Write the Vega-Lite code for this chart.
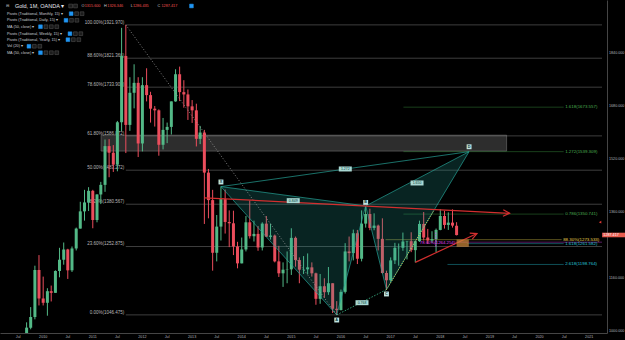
{
  "$schema": "https://vega.github.io/schema/vega-lite/v6.json",
  "width": 607,
  "height": 333,
  "autosize": "none",
  "padding": {"left": 0, "top": 0, "right": 18, "bottom": 7},
  "background": "#000000",
  "config": {
    "view": {"stroke": null},
    "font": "Liberation Sans",
    "axis": {"grid": false, "ticks": false, "domainColor": "#454545", "labelColor": "#b2b5be", "labelFont": "Liberation Sans", "labelFontSize": 3.7}
  },
  "datasets": {
    "xlabels": [
      {"d": "2009-07-01", "lab": "Jul"}, {"d": "2010-01-01", "lab": "2010"},
      {"d": "2010-07-01", "lab": "Jul"}, {"d": "2011-01-01", "lab": "2011"},
      {"d": "2011-07-01", "lab": "Jul"}, {"d": "2012-01-01", "lab": "2012"},
      {"d": "2012-07-01", "lab": "Jul"}, {"d": "2013-01-01", "lab": "2013"},
      {"d": "2013-07-01", "lab": "Jul"}, {"d": "2014-01-01", "lab": "2014"},
      {"d": "2014-07-01", "lab": "Jul"}, {"d": "2015-01-01", "lab": "2015"},
      {"d": "2015-07-01", "lab": "Jul"}, {"d": "2016-01-01", "lab": "2016"},
      {"d": "2016-07-01", "lab": "Jul"}, {"d": "2017-01-01", "lab": "2017"},
      {"d": "2017-07-01", "lab": "Jul"}, {"d": "2018-01-01", "lab": "2018"},
      {"d": "2018-07-01", "lab": "Jul"}, {"d": "2019-01-01", "lab": "2019"},
      {"d": "2019-07-01", "lab": "Jul"}, {"d": "2020-01-01", "lab": "2020"},
      {"d": "2020-07-01", "lab": "Jul"}, {"d": "2021-01-01", "lab": "2021"}
    ],
    "zone": [{"t1": "2011-03-03", "t2": "2019-05-04", "p1": 1541, "p2": 1589}],
    "orange": [{"t1": "2018-05-01", "t2": "2018-07-30", "p1": 1252, "p2": 1274}],
    "levels": [
      {"g": "fib", "p": 1921.97, "t1": "2011-09-01", "t2": "2021-04-05", "lab": "100.00%(1921.970)"},
      {"g": "fib", "p": 1821.366, "t1": "2011-09-01", "t2": "2021-04-05", "lab": "88.60%(1821.366)"},
      {"g": "fib", "p": 1733.908, "t1": "2011-09-01", "t2": "2021-04-05", "lab": "78.60%(1733.908)"},
      {"g": "fib", "p": 1586.872, "t1": "2011-09-01", "t2": "2021-04-05", "lab": "61.80%(1586.872)"},
      {"g": "fib", "p": 1483.272, "t1": "2011-09-01", "t2": "2021-04-05", "lab": "50.00%(1483.272)"},
      {"g": "fib", "p": 1380.567, "t1": "2011-09-01", "t2": "2021-04-05", "lab": "38.20%(1380.567)"},
      {"g": "fib", "p": 1252.875, "t1": "2011-09-01", "t2": "2021-04-05", "lab": "23.60%(1252.875)"},
      {"g": "fib", "p": 1046.475, "t1": "2011-09-01", "t2": "2021-04-05", "lab": "0.00%(1046.475)"},
      {"g": "ext", "p": 1673.557, "t1": "2017-04-05", "t2": "2020-06-27", "lab": "1.618(1673.557)"},
      {"g": "ext", "p": 1539.309, "t1": "2017-04-05", "t2": "2020-06-27", "lab": "1.272(1539.309)"},
      {"g": "ext", "p": 1350.741, "t1": "2017-04-05", "t2": "2020-06-27", "lab": "0.786(1350.741)"},
      {"g": "yel", "p": 1273.533, "t1": "2016-11-24", "t2": "2020-06-12", "lab": "88.30%(1273.533)"},
      {"g": "cyan", "p": 1261.582, "t1": "2018-07-18", "t2": "2020-06-27", "lab": "1.618(1261.582)"},
      {"g": "cyan", "p": 1198.764, "t1": "2018-02-23", "t2": "2020-06-27", "lab": "2.618(1198.764)"},
      {"g": "mag", "p": 1266, "t1": "2018-04-22", "t2": "2021-04-05", "lab": ""}
    ],
    "candles": [
      {"d": "2009-09-01", "o": 955, "h": 1024, "l": 931, "c": 1008},
      {"d": "2009-10-01", "o": 1008, "h": 1070, "l": 1003, "c": 1040},
      {"d": "2009-11-01", "o": 1040, "h": 1195, "l": 1033, "c": 1182},
      {"d": "2009-12-01", "o": 1182, "h": 1227, "l": 1075, "c": 1096},
      {"d": "2010-01-01", "o": 1096, "h": 1162, "l": 1075, "c": 1083},
      {"d": "2010-02-01", "o": 1083, "h": 1127, "l": 1044, "c": 1118},
      {"d": "2010-03-01", "o": 1118, "h": 1135, "l": 1087, "c": 1113},
      {"d": "2010-04-01", "o": 1113, "h": 1181, "l": 1113, "c": 1179},
      {"d": "2010-05-01", "o": 1179, "h": 1249, "l": 1160, "c": 1213},
      {"d": "2010-06-01", "o": 1213, "h": 1265, "l": 1198, "c": 1244},
      {"d": "2010-07-01", "o": 1244, "h": 1246, "l": 1155, "c": 1181},
      {"d": "2010-08-01", "o": 1181, "h": 1253, "l": 1176, "c": 1247},
      {"d": "2010-09-01", "o": 1247, "h": 1310, "l": 1241, "c": 1307},
      {"d": "2010-10-01", "o": 1307, "h": 1388, "l": 1307, "c": 1359},
      {"d": "2010-11-01", "o": 1359, "h": 1424, "l": 1331, "c": 1386},
      {"d": "2010-12-01", "o": 1386, "h": 1432, "l": 1360, "c": 1421},
      {"d": "2011-01-01", "o": 1421, "h": 1424, "l": 1308, "c": 1333},
      {"d": "2011-02-01", "o": 1333, "h": 1411, "l": 1326, "c": 1410},
      {"d": "2011-03-01", "o": 1410, "h": 1448, "l": 1381, "c": 1439},
      {"d": "2011-04-01", "o": 1439, "h": 1576, "l": 1418, "c": 1556},
      {"d": "2011-05-01", "o": 1556, "h": 1577, "l": 1462, "c": 1536},
      {"d": "2011-06-01", "o": 1536, "h": 1559, "l": 1478, "c": 1500},
      {"d": "2011-07-01", "o": 1500, "h": 1632, "l": 1480, "c": 1628},
      {"d": "2011-08-01", "o": 1628, "h": 1913, "l": 1601, "c": 1828},
      {"d": "2011-09-01", "o": 1828, "h": 1921.97, "l": 1535, "c": 1620},
      {"d": "2011-10-01", "o": 1620, "h": 1764, "l": 1602, "c": 1717},
      {"d": "2011-11-01", "o": 1717, "h": 1803, "l": 1670, "c": 1747},
      {"d": "2011-12-01", "o": 1747, "h": 1764, "l": 1523, "c": 1564},
      {"d": "2012-01-01", "o": 1564, "h": 1764, "l": 1540, "c": 1740},
      {"d": "2012-02-01", "o": 1740, "h": 1791, "l": 1691, "c": 1710},
      {"d": "2012-03-01", "o": 1710, "h": 1720, "l": 1627, "c": 1669},
      {"d": "2012-04-01", "o": 1669, "h": 1677, "l": 1615, "c": 1664},
      {"d": "2012-05-01", "o": 1664, "h": 1667, "l": 1527, "c": 1560},
      {"d": "2012-06-01", "o": 1560, "h": 1641, "l": 1546, "c": 1605},
      {"d": "2012-07-01", "o": 1605, "h": 1627, "l": 1565, "c": 1614},
      {"d": "2012-08-01", "o": 1614, "h": 1691, "l": 1591, "c": 1691},
      {"d": "2012-09-01", "o": 1691, "h": 1788, "l": 1690, "c": 1773},
      {"d": "2012-10-01", "o": 1773, "h": 1796, "l": 1692, "c": 1719},
      {"d": "2012-11-01", "o": 1719, "h": 1755, "l": 1672, "c": 1712},
      {"d": "2012-12-01", "o": 1712, "h": 1727, "l": 1635, "c": 1676},
      {"d": "2013-01-01", "o": 1676, "h": 1695, "l": 1626, "c": 1664},
      {"d": "2013-02-01", "o": 1664, "h": 1684, "l": 1555, "c": 1578},
      {"d": "2013-03-01", "o": 1578, "h": 1617, "l": 1562, "c": 1597},
      {"d": "2013-04-01", "o": 1597, "h": 1605, "l": 1321, "c": 1476},
      {"d": "2013-05-01", "o": 1476, "h": 1487, "l": 1338, "c": 1393},
      {"d": "2013-06-01", "o": 1393, "h": 1424, "l": 1180, "c": 1234},
      {"d": "2013-07-01", "o": 1234, "h": 1348, "l": 1208, "c": 1313},
      {"d": "2013-08-01", "o": 1313, "h": 1433.8, "l": 1271, "c": 1396},
      {"d": "2013-09-01", "o": 1396, "h": 1425, "l": 1292, "c": 1327},
      {"d": "2013-10-01", "o": 1327, "h": 1362, "l": 1251, "c": 1323},
      {"d": "2013-11-01", "o": 1323, "h": 1361, "l": 1227, "c": 1253},
      {"d": "2013-12-01", "o": 1253, "h": 1267, "l": 1187, "c": 1202},
      {"d": "2014-01-01", "o": 1202, "h": 1280, "l": 1202, "c": 1244},
      {"d": "2014-02-01", "o": 1244, "h": 1345, "l": 1238, "c": 1326},
      {"d": "2014-03-01", "o": 1326, "h": 1392, "l": 1277, "c": 1284},
      {"d": "2014-04-01", "o": 1284, "h": 1331, "l": 1268, "c": 1291},
      {"d": "2014-05-01", "o": 1291, "h": 1315, "l": 1240, "c": 1250},
      {"d": "2014-06-01", "o": 1250, "h": 1326, "l": 1241, "c": 1322},
      {"d": "2014-07-01", "o": 1322, "h": 1345, "l": 1282, "c": 1282.5},
      {"d": "2014-08-01", "o": 1282, "h": 1322, "l": 1274, "c": 1286},
      {"d": "2014-09-01", "o": 1286, "h": 1289, "l": 1205, "c": 1208},
      {"d": "2014-10-01", "o": 1208, "h": 1255, "l": 1161, "c": 1172},
      {"d": "2014-11-01", "o": 1172, "h": 1205, "l": 1131, "c": 1183},
      {"d": "2014-12-01", "o": 1183, "h": 1238, "l": 1142, "c": 1184},
      {"d": "2015-01-01", "o": 1184, "h": 1308, "l": 1167, "c": 1279},
      {"d": "2015-02-01", "o": 1279, "h": 1283, "l": 1192, "c": 1212},
      {"d": "2015-03-01", "o": 1212, "h": 1220, "l": 1142, "c": 1183},
      {"d": "2015-04-01", "o": 1183, "h": 1224, "l": 1170, "c": 1184},
      {"d": "2015-05-01", "o": 1184, "h": 1232, "l": 1169, "c": 1190},
      {"d": "2015-06-01", "o": 1190, "h": 1205, "l": 1162, "c": 1172},
      {"d": "2015-07-01", "o": 1172, "h": 1174, "l": 1077, "c": 1095},
      {"d": "2015-08-01", "o": 1095, "h": 1170, "l": 1080, "c": 1133},
      {"d": "2015-09-01", "o": 1133, "h": 1157, "l": 1098, "c": 1115},
      {"d": "2015-10-01", "o": 1115, "h": 1191, "l": 1107, "c": 1142},
      {"d": "2015-11-01", "o": 1142, "h": 1142, "l": 1052, "c": 1065},
      {"d": "2015-12-01", "o": 1065, "h": 1088, "l": 1046.4, "c": 1061},
      {"d": "2016-01-01", "o": 1061, "h": 1123, "l": 1060, "c": 1116},
      {"d": "2016-02-01", "o": 1116, "h": 1263, "l": 1111, "c": 1238},
      {"d": "2016-03-01", "o": 1238, "h": 1283, "l": 1208, "c": 1233},
      {"d": "2016-04-01", "o": 1233, "h": 1304, "l": 1211, "c": 1293},
      {"d": "2016-05-01", "o": 1293, "h": 1303, "l": 1200, "c": 1216},
      {"d": "2016-06-01", "o": 1216, "h": 1362, "l": 1208, "c": 1322},
      {"d": "2016-07-01", "o": 1322, "h": 1375.3, "l": 1310, "c": 1351},
      {"d": "2016-08-01", "o": 1351, "h": 1367, "l": 1302, "c": 1309},
      {"d": "2016-09-01", "o": 1309, "h": 1353, "l": 1302, "c": 1316},
      {"d": "2016-10-01", "o": 1316, "h": 1319, "l": 1241, "c": 1276},
      {"d": "2016-11-01", "o": 1276, "h": 1338, "l": 1171, "c": 1173},
      {"d": "2016-12-01", "o": 1173, "h": 1180, "l": 1122.8, "c": 1151},
      {"d": "2017-01-01", "o": 1151, "h": 1220, "l": 1146, "c": 1211},
      {"d": "2017-02-01", "o": 1211, "h": 1264, "l": 1200, "c": 1249},
      {"d": "2017-03-01", "o": 1248, "h": 1262, "l": 1195, "c": 1249},
      {"d": "2017-04-01", "o": 1249, "h": 1295, "l": 1240, "c": 1268},
      {"d": "2017-05-01", "o": 1268, "h": 1270, "l": 1214, "c": 1269},
      {"d": "2017-06-01", "o": 1269, "h": 1296, "l": 1236, "c": 1242},
      {"d": "2017-07-01", "o": 1242, "h": 1270, "l": 1204.9, "c": 1269},
      {"d": "2017-08-01", "o": 1269, "h": 1331, "l": 1267, "c": 1321},
      {"d": "2017-09-01", "o": 1321, "h": 1357, "l": 1271, "c": 1280},
      {"d": "2017-10-01", "o": 1280, "h": 1306, "l": 1261, "c": 1271},
      {"d": "2017-11-01", "o": 1271, "h": 1299, "l": 1264, "c": 1275},
      {"d": "2017-12-01", "o": 1275, "h": 1307, "l": 1236, "c": 1303},
      {"d": "2018-01-01", "o": 1303, "h": 1366, "l": 1302, "c": 1345},
      {"d": "2018-02-01", "o": 1345, "h": 1361, "l": 1307, "c": 1318},
      {"d": "2018-03-01", "o": 1318, "h": 1356, "l": 1303, "c": 1325},
      {"d": "2018-04-01", "o": 1325, "h": 1365, "l": 1310, "c": 1316},
      {"d": "2018-05-01", "o": 1315.6, "h": 1326.346, "l": 1286.435, "c": 1287.417}
    ],
    "poly": [
      {"poly": "XAB", "k": 0, "d": "2013-08-01", "p": 1433.8},
      {"poly": "XAB", "k": 1, "d": "2015-12-01", "p": 1046.4},
      {"poly": "XAB", "k": 2, "d": "2016-07-01", "p": 1375.3},
      {"poly": "BCD", "k": 0, "d": "2016-07-01", "p": 1375.3},
      {"poly": "BCD", "k": 1, "d": "2016-12-01", "p": 1122.8},
      {"poly": "BCD", "k": 2, "d": "2018-08-01", "p": 1539.3}
    ],
    "segs": [
      {"g": "fibdiag", "t1": "2011-09-01", "p1": 1921.97, "t2": "2015-12-01", "p2": 1046.475},
      {"g": "edge", "t1": "2013-08-01", "p1": 1433.8, "t2": "2015-12-01", "p2": 1046.4},
      {"g": "edge", "t1": "2015-12-01", "p1": 1046.4, "t2": "2016-07-01", "p2": 1375.3},
      {"g": "edge", "t1": "2013-08-01", "p1": 1433.8, "t2": "2016-07-01", "p2": 1375.3},
      {"g": "edge", "t1": "2016-07-01", "p1": 1375.3, "t2": "2016-12-01", "p2": 1122.8},
      {"g": "edge", "t1": "2016-12-01", "p1": 1122.8, "t2": "2018-08-01", "p2": 1539.3},
      {"g": "edge", "t1": "2016-07-01", "p1": 1375.3, "t2": "2018-08-01", "p2": 1539.3},
      {"g": "xd", "t1": "2013-08-01", "p1": 1433.8, "t2": "2018-08-01", "p2": 1539.3},
      {"g": "ac", "t1": "2015-12-01", "p1": 1046.4, "t2": "2016-12-01", "p2": 1122.8},
      {"g": "yeldot", "t1": "2016-12-01", "p1": 1122.8, "t2": "2017-11-12", "p2": 1360},
      {"g": "magv", "t1": "2017-11-29", "p1": 1295, "t2": "2017-11-29", "p2": 1250},
      {"g": "red", "t1": "2013-04-03", "p1": 1399.8, "t2": "2019-05-26", "p2": 1353.2},
      {"g": "red", "t1": "2017-07-01", "p1": 1204.9, "t2": "2018-09-28", "p2": 1292}
    ],
    "arrows": [
      {"a": "a1", "d": "2019-05-26", "p": 1353.2},
      {"a": "a2", "d": "2018-09-28", "p": 1292}
    ],
    "pts": [
      {"lab": "X", "d": "2013-08-01", "p": 1447.7},
      {"lab": "A", "d": "2015-12-01", "p": 1031},
      {"lab": "B", "d": "2016-07-01", "p": 1386},
      {"lab": "C", "d": "2016-12-01", "p": 1109.6},
      {"lab": "D", "d": "2018-08-01", "p": 1554}
    ],
    "ratios": [
      {"lab": "0.849", "d": "2015-01-15", "p": 1391.3},
      {"lab": "0.768", "d": "2016-06-04", "p": 1083.3},
      {"lab": "1.272", "d": "2016-02-02", "p": 1487},
      {"lab": "1.650", "d": "2017-07-14", "p": 1444.7}
    ],
    "magtext": [{"txt": "78.60%(1264.254)", "d": "2017-08-03", "p": 1265}],
    "pricebox": [{"t1": "2021-04-06", "t2": "2021-10-01", "p1": 1280.8, "p2": 1294.6}],
    "pricetext": [{"txt": "1287.417", "d": "2021-04-15", "p": 1287.6}],
    "marker": [{"d": "2021-03-22", "p": 1326.3}],
    "legend": [
      {"kind": "title", "d": "2009-06-07", "p": 1979, "txt": "Gold, 1M, OANDA ▾"},
      {"kind": "row", "d": "2009-04-05", "p": 1979, "txt": "⊟"},
      {"kind": "hdr", "d": "2010-10-10", "p": 1979, "txt": "O"},
      {"kind": "val", "d": "2010-11-02", "p": 1979, "txt": "1315.600"},
      {"kind": "hdr", "d": "2011-03-25", "p": 1979, "txt": "H"},
      {"kind": "val", "d": "2011-04-18", "p": 1979, "txt": "1326.346"},
      {"kind": "hdr", "d": "2011-10-07", "p": 1979, "txt": "L"},
      {"kind": "val", "d": "2011-10-23", "p": 1979, "txt": "1286.435"},
      {"kind": "hdr", "d": "2012-04-22", "p": 1979, "txt": "C"},
      {"kind": "val", "d": "2012-05-20", "p": 1979, "txt": "1287.417"},
      {"kind": "row", "d": "2009-04-09", "p": 1955.8, "txt": "Pivots (Traditional, Monthly, 15) ▾"},
      {"kind": "row", "d": "2009-04-09", "p": 1935.8, "txt": "Pivots (Traditional, Daily, 15) ▾"},
      {"kind": "row", "d": "2009-04-09", "p": 1916.5, "txt": "MA (50, close) ▾"},
      {"kind": "row", "d": "2009-04-09", "p": 1895.4, "txt": "Pivots (Traditional, Weekly, 15) ▾"},
      {"kind": "row", "d": "2009-04-09", "p": 1877.3, "txt": "Pivots (Traditional, Yearly, 15) ▾"},
      {"kind": "row", "d": "2009-04-09", "p": 1857.4, "txt": "Vol (20) ▾"},
      {"kind": "row", "d": "2009-04-09", "p": 1838.0, "txt": "MA (50, close) ▾"}
    ],
    "icons": [
      {"kind": "gray", "d": "2010-07-22", "p": 1979},
      {"kind": "gray", "d": "2010-08-27", "p": 1979},
      {"kind": "blue", "d": "2012-12-27", "p": 1979},
      {"kind": "blue", "d": "2010-07-26", "p": 1955.8},
      {"kind": "gray", "d": "2010-09-04", "p": 1955.8},
      {"kind": "gray", "d": "2010-10-14", "p": 1955.8},
      {"kind": "blue", "d": "2010-06-18", "p": 1935.8},
      {"kind": "gray", "d": "2010-07-28", "p": 1935.8},
      {"kind": "gray", "d": "2010-09-06", "p": 1935.8},
      {"kind": "blue", "d": "2009-12-12", "p": 1916.5},
      {"kind": "gray", "d": "2010-01-21", "p": 1916.5},
      {"kind": "gray", "d": "2010-03-02", "p": 1916.5},
      {"kind": "gray", "d": "2010-04-11", "p": 1916.5},
      {"kind": "blue", "d": "2010-07-17", "p": 1895.4},
      {"kind": "gray", "d": "2010-08-26", "p": 1895.4},
      {"kind": "gray", "d": "2010-10-05", "p": 1895.4},
      {"kind": "blue", "d": "2010-07-02", "p": 1877.3},
      {"kind": "gray", "d": "2010-08-11", "p": 1877.3},
      {"kind": "gray", "d": "2010-09-20", "p": 1877.3},
      {"kind": "blue", "d": "2009-09-18", "p": 1857.4},
      {"kind": "gray", "d": "2009-10-28", "p": 1857.4},
      {"kind": "gray", "d": "2009-12-07", "p": 1857.4},
      {"kind": "blue", "d": "2009-12-12", "p": 1838.0},
      {"kind": "gray", "d": "2010-01-21", "p": 1838.0},
      {"kind": "gray", "d": "2010-03-02", "p": 1838.0},
      {"kind": "gray", "d": "2010-04-11", "p": 1838.0}
    ]
  },
  "layer": [
    {
      "data": {"name": "zone"},
      "mark": {"type": "rect", "fill": "#5a5a5a", "fillOpacity": 0.5, "stroke": "#707070", "strokeWidth": 0.6, "clip": true},
      "encoding": {
        "x": {
          "field": "t1", "type": "temporal",
          "scale": {"domain": [{"year": 2009, "month": 3, "date": 26}, {"year": 2021, "month": 4, "date": 5}]},
          "axis": {"title": null, "orient": "bottom", "labels": false, "ticks": false, "domainColor": "#454545"}
        },
        "x2": {"field": "t2"},
        "y": {
          "field": "p1", "type": "quantitative",
          "scale": {"domain": [991.8, 1997.1], "zero": false, "nice": false},
          "axis": {
            "title": null, "orient": "right", "labelPadding": 1.5, "labelFontSize": 3.7, "labelOverlap": false, "labelFlush": false,
            "labelExpr": "format(datum.value, '.3f')",
            "values": [1000, 1040, 1080, 1120, 1160, 1200, 1240, 1320, 1360, 1400, 1440, 1480, 1520, 1560, 1600, 1640, 1680, 1720, 1760, 1800, 1840, 1880, 1920, 1960]
          }
        },
        "y2": {"field": "p2"}
      }
    },
    {
      "data": {"name": "xlabels"},
      "mark": {"type": "text", "align": "center", "baseline": "middle", "dy": 3.8, "fontSize": 3.7, "color": "#b2b5be", "clip": false},
      "encoding": {
        "x": {"field": "d", "type": "temporal"},
        "y": {"datum": 991.8, "type": "quantitative"},
        "text": {"field": "lab"}
      }
    },
    {
      "data": {"name": "levels"},
      "mark": {"type": "rule", "strokeWidth": 0.8, "opacity": 0.5, "clip": true},
      "encoding": {
        "x": {"field": "t1", "type": "temporal"},
        "x2": {"field": "t2"},
        "y": {"field": "p", "type": "quantitative"},
        "color": {
          "condition": [
            {"test": "datum.g == 'ext'", "value": "#3f9d44"},
            {"test": "datum.g == 'yel'", "value": "#e8d44d"},
            {"test": "datum.g == 'cyan'", "value": "#26c6da"},
            {"test": "datum.g == 'mag'", "value": "#e040fb"}
          ],
          "value": "#9a9a9a"
        }
      }
    },
    {
      "data": {"name": "levels"},
      "transform": [{"filter": "datum.g == 'fib'"}],
      "mark": {"type": "text", "align": "right", "baseline": "bottom", "dx": -1.5, "dy": -0.3, "fontSize": 4.5, "color": "#b8b8b8", "clip": true},
      "encoding": {
        "x": {"field": "t1", "type": "temporal"},
        "y": {"field": "p", "type": "quantitative"},
        "text": {"field": "lab"}
      }
    },
    {
      "data": {"name": "levels"},
      "transform": [{"filter": "datum.g == 'ext' || datum.g == 'yel' || datum.g == 'cyan'"}],
      "mark": {"type": "text", "align": "left", "baseline": "middle", "dx": 1.5, "fontSize": 4.4, "clip": true},
      "encoding": {
        "x": {"field": "t2", "type": "temporal"},
        "y": {"field": "p", "type": "quantitative"},
        "text": {"field": "lab"},
        "color": {
          "condition": [
            {"test": "datum.g == 'ext'", "value": "#4caf50"},
            {"test": "datum.g == 'yel'", "value": "#e8d44d"}
          ],
          "value": "#26c6da"
        }
      }
    },
    {
      "data": {"name": "candles"},
      "layer": [
        {
          "mark": {"type": "rule", "strokeWidth": 1, "clip": true},
          "encoding": {
            "x": {"field": "d", "type": "temporal"},
            "y": {"field": "l", "type": "quantitative"},
            "y2": {"field": "h"},
            "color": {"condition": {"test": "datum.c >= datum.o", "value": "#53b987"}, "value": "#eb4d5c"}
          }
        },
        {
          "mark": {"type": "bar", "size": 3, "clip": true},
          "encoding": {
            "x": {"field": "d", "type": "temporal"},
            "y": {"field": "o", "type": "quantitative"},
            "y2": {"field": "c"},
            "color": {"condition": {"test": "datum.c >= datum.o", "value": "#53b987"}, "value": "#eb4d5c"}
          }
        }
      ]
    },
    {
      "data": {"name": "poly"},
      "mark": {"type": "line", "interpolate": "linear-closed", "filled": true, "fill": "#26a69a", "fillOpacity": 0.22, "strokeWidth": 0, "clip": true},
      "encoding": {
        "x": {"field": "d", "type": "temporal"},
        "y": {"field": "p", "type": "quantitative"},
        "detail": {"field": "poly"},
        "order": {"field": "k"}
      }
    },
    {
      "data": {"name": "segs"},
      "layer": [
        {
          "transform": [{"filter": "datum.g == 'edge' || datum.g == 'xd'"}],
          "mark": {"type": "rule", "color": "#26a69a", "strokeWidth": 0.8, "opacity": 0.85, "clip": true},
          "encoding": {"x": {"field": "t1", "type": "temporal"}, "x2": {"field": "t2"}, "y": {"field": "p1", "type": "quantitative"}, "y2": {"field": "p2"}}
        },
        {
          "transform": [{"filter": "datum.g == 'ac'"}],
          "mark": {"type": "rule", "color": "#3fbf8f", "strokeWidth": 0.8, "strokeDash": [1.5, 1.5], "clip": true},
          "encoding": {"x": {"field": "t1", "type": "temporal"}, "x2": {"field": "t2"}, "y": {"field": "p1", "type": "quantitative"}, "y2": {"field": "p2"}}
        },
        {
          "transform": [{"filter": "datum.g == 'fibdiag'"}],
          "mark": {"type": "rule", "color": "#a0a0a0", "strokeWidth": 0.8, "strokeDash": [1, 2], "clip": true},
          "encoding": {"x": {"field": "t1", "type": "temporal"}, "x2": {"field": "t2"}, "y": {"field": "p1", "type": "quantitative"}, "y2": {"field": "p2"}}
        },
        {
          "transform": [{"filter": "datum.g == 'yeldot'"}],
          "mark": {"type": "rule", "color": "#e8d44d", "strokeWidth": 1, "strokeDash": [1, 1.5], "clip": true},
          "encoding": {"x": {"field": "t1", "type": "temporal"}, "x2": {"field": "t2"}, "y": {"field": "p1", "type": "quantitative"}, "y2": {"field": "p2"}}
        },
        {
          "transform": [{"filter": "datum.g == 'magv'"}],
          "mark": {"type": "rule", "color": "#e040fb", "strokeWidth": 0.8, "strokeDash": [1.5, 1], "clip": true},
          "encoding": {"x": {"field": "t1", "type": "temporal"}, "x2": {"field": "t2"}, "y": {"field": "p1", "type": "quantitative"}, "y2": {"field": "p2"}}
        },
        {
          "transform": [{"filter": "datum.g == 'red'"}],
          "mark": {"type": "rule", "color": "#d32f2f", "strokeWidth": 1.2, "clip": true},
          "encoding": {"x": {"field": "t1", "type": "temporal"}, "x2": {"field": "t2"}, "y": {"field": "p1", "type": "quantitative"}, "y2": {"field": "p2"}}
        }
      ]
    },
    {
      "data": {"name": "arrows"},
      "layer": [
        {
          "transform": [{"filter": "datum.a == 'a1'"}],
          "mark": {"type": "point", "shape": "M-2,-1L0,0L-2,1", "filled": false, "stroke": "#d32f2f", "strokeWidth": 1.2, "size": 42, "angle": 3, "opacity": 1, "clip": true},
          "encoding": {"x": {"field": "d", "type": "temporal"}, "y": {"field": "p", "type": "quantitative"}}
        },
        {
          "transform": [{"filter": "datum.a == 'a2'"}],
          "mark": {"type": "point", "shape": "M-2,-1L0,0L-2,1", "filled": false, "stroke": "#d32f2f", "strokeWidth": 1.2, "size": 42, "angle": 337, "opacity": 1, "clip": true},
          "encoding": {"x": {"field": "d", "type": "temporal"}, "y": {"field": "p", "type": "quantitative"}}
        }
      ]
    },
    {
      "data": {"name": "orange"},
      "mark": {"type": "rect", "fill": "#d08a3a", "fillOpacity": 0.7, "clip": true},
      "encoding": {"x": {"field": "t1", "type": "temporal"}, "x2": {"field": "t2"}, "y": {"field": "p1", "type": "quantitative"}, "y2": {"field": "p2"}}
    },
    {
      "data": {"name": "magtext"},
      "mark": {"type": "text", "align": "left", "baseline": "middle", "fontSize": 4.3, "color": "#e040fb", "clip": true},
      "encoding": {"x": {"field": "d", "type": "temporal"}, "y": {"field": "p", "type": "quantitative"}, "text": {"field": "txt"}}
    },
    {
      "data": {"name": "pts"},
      "layer": [
        {
          "mark": {"type": "point", "shape": "square", "filled": true, "size": 24, "color": "#bfe3df", "opacity": 1, "clip": true},
          "encoding": {"x": {"field": "d", "type": "temporal"}, "y": {"field": "p", "type": "quantitative"}}
        },
        {
          "mark": {"type": "text", "align": "center", "baseline": "middle", "fontSize": 3.8, "fontWeight": "bold", "color": "#0b3a36", "clip": true},
          "encoding": {"x": {"field": "d", "type": "temporal"}, "y": {"field": "p", "type": "quantitative"}, "text": {"field": "lab"}}
        }
      ]
    },
    {
      "data": {"name": "ratios"},
      "layer": [
        {
          "mark": {"type": "point", "shape": "M-2.6,-1L2.6,-1L2.6,1L-2.6,1Z", "filled": true, "size": 25, "color": "#a9d8d3", "opacity": 1, "clip": true},
          "encoding": {"x": {"field": "d", "type": "temporal"}, "y": {"field": "p", "type": "quantitative"}}
        },
        {
          "mark": {"type": "text", "align": "center", "baseline": "middle", "fontSize": 3.5, "color": "#0b3a36", "clip": true},
          "encoding": {"x": {"field": "d", "type": "temporal"}, "y": {"field": "p", "type": "quantitative"}, "text": {"field": "lab"}}
        }
      ]
    },
    {
      "data": {"name": "legend"},
      "layer": [
        {
          "transform": [{"filter": "datum.kind == 'title'"}],
          "mark": {"type": "text", "align": "left", "baseline": "middle", "fontSize": 5.5, "color": "#e6e8ee", "clip": true},
          "encoding": {"x": {"field": "d", "type": "temporal"}, "y": {"field": "p", "type": "quantitative"}, "text": {"field": "txt"}}
        },
        {
          "transform": [{"filter": "datum.kind != 'title'"}],
          "mark": {"type": "text", "align": "left", "baseline": "middle", "fontSize": 3.8, "clip": true},
          "encoding": {
            "x": {"field": "d", "type": "temporal"},
            "y": {"field": "p", "type": "quantitative"},
            "text": {"field": "txt"},
            "color": {"condition": [{"test": "datum.kind == 'val'", "value": "#ef5350"}, {"test": "datum.kind == 'hdr'", "value": "#c8cbd3"}], "value": "#c8cbd3"}
          }
        }
      ]
    },
    {
      "data": {"name": "icons"},
      "mark": {"type": "point", "shape": "square", "filled": true, "size": 14, "strokeWidth": 0.5, "opacity": 1, "clip": true},
      "encoding": {
        "x": {"field": "d", "type": "temporal"},
        "y": {"field": "p", "type": "quantitative"},
        "fill": {"condition": {"test": "datum.kind == 'blue'", "value": "#2196f3"}, "value": "#1c1c1c"},
        "stroke": {"condition": {"test": "datum.kind == 'blue'", "value": "#2196f3"}, "value": "#5a5a5a"}
      }
    },
    {
      "data": {"name": "pricebox"},
      "mark": {"type": "rect", "fill": "#e85c4f", "clip": false},
      "encoding": {"x": {"field": "t1", "type": "temporal"}, "x2": {"field": "t2"}, "y": {"field": "p1", "type": "quantitative"}, "y2": {"field": "p2"}}
    },
    {
      "data": {"name": "pricetext"},
      "mark": {"type": "text", "align": "left", "baseline": "middle", "fontSize": 3.7, "color": "#ffffff", "clip": false},
      "encoding": {"x": {"field": "d", "type": "temporal"}, "y": {"field": "p", "type": "quantitative"}, "text": {"field": "txt"}}
    },
    {
      "data": {"name": "marker"},
      "mark": {"type": "point", "shape": "triangle-left", "filled": true, "size": 8, "color": "#e53935", "opacity": 1, "clip": false},
      "encoding": {"x": {"field": "d", "type": "temporal"}, "y": {"field": "p", "type": "quantitative"}}
    }
  ]
}
